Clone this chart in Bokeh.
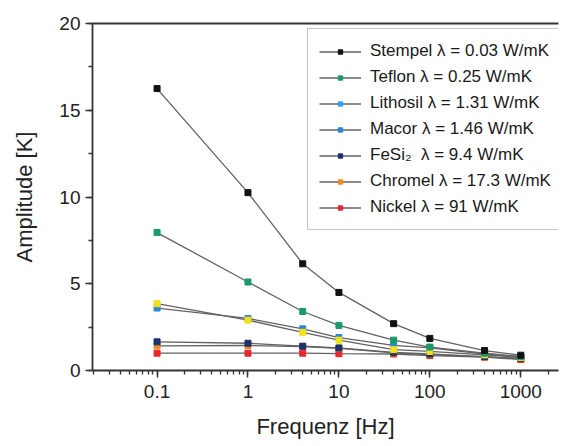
from bokeh.plotting import figure
from bokeh.models import (ColumnDataSource, Legend, LegendItem, LinearAxis, LogTicker,
                          SingleIntervalTicker, FixedTicker, Range1d)
from bokeh.embed import file_html
from bokeh.resources import INLINE

# ---- data ----
freq = [0.1, 1, 4, 10, 40, 100, 400, 1000]
stempel = [16.25, 10.25, 6.15, 4.5, 2.7, 1.85, 1.15, 0.88]
teflon = [7.95, 5.1, 3.4, 2.6, 1.75, 1.35, 1.0, 0.8]
lithosil = [3.85, 2.9, 2.2, 1.75, 1.2, 1.1, 0.9, 0.75]
macor = [3.6, 3.0, 2.4, 1.9, 1.45, 1.3, 0.95, 0.8]
fesi2 = [1.65, 1.57, 1.4, 1.3, 1.05, 0.95, 0.8, 0.7]
chromel = [1.42, 1.44, 1.38, 1.28, 1.02, 0.92, 0.78, 0.68]
nickel = [1.0, 1.0, 1.0, 0.97, 0.95, 0.86, 0.77, 0.63]

labels = ["Stempel \u03bb = 0.03 W/mK", "Teflon \u03bb = 0.25 W/mK",
          "Lithosil \u03bb = 1.31 W/mK", "Macor \u03bb = 1.46 W/mK",
          "FeSi\u2082  \u03bb = 9.4 W/mK", "Chromel \u03bb = 17.3 W/mK",
          "Nickel \u03bb = 91 W/mK"]
series = [stempel, teflon, lithosil, macor, fesi2, chromel, nickel]
data_colors = ["#111111", "#1a9a6c", "#f2e21c", "#2f86d8", "#1c2f6e", "#f08a24", "#e8262b"]
legend_colors = ["#111111", "#1a9a6c", "#3aa0e8", "#2f86d8", "#1c2f6e", "#f08a24", "#e8262b"]

FONT = "Liberation Sans"

p = figure(width=562, height=446, x_axis_type="log", output_backend="svg",
           toolbar_location=None, x_range=Range1d(0.0195, 2600), y_range=Range1d(0, 20),
           min_border_left=92, min_border_right=4, min_border_top=23, min_border_bottom=76)
p.outline_line_color = None
p.grid.visible = False
p.background_fill_color = "white"
p.border_fill_color = "white"

# draw series (back to front)
for i in [6, 5, 4, 3, 2, 1, 0]:
    src = ColumnDataSource(dict(x=freq, y=series[i]))
    p.line("x", "y", source=src, line_color="#626262", line_width=1.3)
    p.scatter("x", "y", source=src, marker="square", size=6,
              fill_color=data_colors[i], line_color=data_colors[i])

# legend-only renderers (a single undefined point, never drawn in the plot)
nan = float("nan")
items = []
for i, lab in enumerate(labels):
    esrc = ColumnDataSource(dict(x=[nan], y=[nan]))
    lr = p.line("x", "y", source=esrc, line_color="#626262", line_width=1.3)
    sr = p.scatter("x", "y", source=esrc, marker="square", size=5,
                   fill_color=legend_colors[i], line_color=legend_colors[i])
    items.append(LegendItem(label=lab, renderers=[lr, sr]))

legend = Legend(items=items, location=(215, 140))
legend.label_text_font = FONT
legend.label_text_font_size = "17px"
legend.label_text_color = "#1a1a1a"
legend.glyph_width = 42
legend.glyph_height = 11
legend.label_height = 22
legend.label_standoff = 9
legend.spacing = 4
legend.padding = 11
legend.margin = 0
legend.border_line_color = "#8a8a8a"
legend.border_line_width = 1.2
legend.background_fill_color = "white"
legend.background_fill_alpha = 1
p.add_layout(legend, "center")

# axes
xa = p.xaxis[0]
xa.ticker = LogTicker(num_minor_ticks=10)
ya = p.yaxis[0]
ya.ticker = SingleIntervalTicker(interval=5, num_minor_ticks=2)
for ax in (xa, ya):
    ax.axis_line_color = "#333333"
    ax.axis_line_width = 1.8
    ax.major_tick_line_color = "#333333"
    ax.major_tick_line_width = 1.5
    ax.minor_tick_line_color = "#333333"
    ax.minor_tick_line_width = 1.3
    ax.major_tick_out = 7
    ax.major_tick_in = 0
    ax.minor_tick_out = 4
    ax.minor_tick_in = 0
    ax.major_label_text_font = FONT
    ax.major_label_text_font_size = "19px"
    ax.major_label_text_color = "#222222"
    ax.axis_label_text_font = FONT
    ax.axis_label_text_font_size = "22px"
    ax.axis_label_text_font_style = "normal"
    ax.axis_label_text_color = "#222222"
xa.axis_label = "Frequenz [Hz]"
ya.axis_label = "Amplitude [K]"
xa.major_label_standoff = 7
xa.axis_label_standoff = 13
ya.major_label_standoff = 5
ya.axis_label_standoff = 19
xa.major_label_overrides = {0.1: "0.1", 1: "1", 10: "10", 100: "100", 1000: "1000"}

top = LinearAxis(ticker=FixedTicker(ticks=[]), axis_line_color="#333333", axis_line_width=1.8,
                 major_tick_line_color=None, minor_tick_line_color=None,
                 major_label_standoff=0)
p.add_layout(top, "above")

open("out.html", "w").write(file_html(p, INLINE))
